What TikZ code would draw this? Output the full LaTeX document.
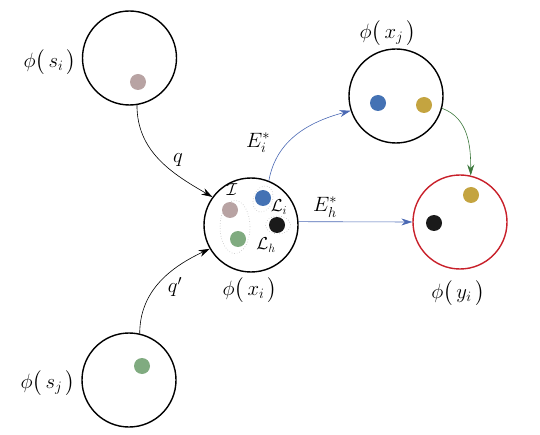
\documentclass[tikz,border=0pt]{standalone}
\usepackage{amsmath}
\usetikzlibrary{arrows.meta}
\definecolor{cgrey}{RGB}{184,163,163}
\definecolor{cblue}{RGB}{68,114,180}
\definecolor{cgold}{RGB}{196,164,64}
\definecolor{cgreen}{RGB}{128,171,128}
\definecolor{cblack}{RGB}{26,26,26}
\definecolor{cred}{RGB}{200,32,42}
\definecolor{cdkgreen}{RGB}{60,120,60}
\definecolor{cline}{RGB}{75,105,180}
\begin{document}
\begin{tikzpicture}[x=1pt,y=1pt,
  space/.style={circle,draw=black,line width=1.4pt,minimum size=94pt,inner sep=0pt},
  dot/.style={circle,fill=#1,minimum size=16pt,inner sep=0pt},
  lbl/.style={inner sep=1pt,font=\fontsize{20}{24}\selectfont},
  slbl/.style={inner sep=1pt,font=\fontsize{18}{22}\selectfont},
  conn/.style={line width=0.6pt,-{Stealth[length=11pt,width=7pt]}},
  grp/.style={draw=gray!55,dotted,line width=0.6pt}]
\useasboundingbox (0,0) rectangle (540,434);
% spaces
\node[space] (si) at (129.5,376) {};
\node[space] (xi) at (251,209) {};
\node[space] (xj) at (396,338) {};
\node[space,draw=cred] (yi) at (460,212) {};
\node[space] (sj) at (129,54) {};
% groups in x_i
\draw[grp] (235,207) ellipse [x radius=15,y radius=26.5];
\draw[grp,rotate around={-20:(263,235)}] (263,235) ellipse [x radius=9.5,y radius=13.5];
\draw[grp] (278,209) ellipse [x radius=12.5,y radius=9];
% dots
\node[dot=cgrey] (d1) at (138,352) {};
\node[dot=cgrey] (d2) at (230,224) {};
\node[dot=cblue] (d3) at (263,236) {};
\node[dot=cblack] (d4) at (277,209) {};
\node[dot=cgreen] (d5) at (238,195) {};
\node[dot=cblue] (d6) at (378,331) {};
\node[dot=cgold] (d7) at (424,329) {};
\node[dot=cgold] (d8) at (471,239) {};
\node[dot=cblack] (d9) at (434,211) {};
\node[dot=cgreen] (d10) at (142,68) {};
% labels
\node[lbl] (lsi) at (50,372) {$\phi\bigl(\,s_{i}\,\bigr)$};
\node[lbl] (lxi) at (250,144) {$\phi\bigl(\,x_{i}\,\bigr)$};
\node[lbl] (lxj) at (388,401) {$\phi\bigl(\,x_{j}\,\bigr)$};
\node[lbl] (lyi) at (458,141) {$\phi\bigl(\,y_{i}\,\bigr)$};
\node[lbl] (lsj) at (48,51) {$\phi\bigl(\,s_{j}\,\bigr)$};
\node[slbl] (lI) at (232,244) {$\mathcal{I}$};
\node[slbl] (lLi) at (279,227) {$\mathcal{L}_{i}$};
\node[slbl] (lLh) at (266,189) {$\mathcal{L}_{h}$};
\node[lbl] (lq) at (178,274) {$q$};
\node[lbl] (lqp) at (175,147) {$q'$};
\node[lbl] (lEi) at (258,291) {$E_{i}^{*}$};
\node[lbl] (lEh) at (325,227) {$E_{h}^{*}$};
% connectors
\draw[conn] (si.-81) to[out=-90,in=150] (xi.144);
\draw[conn] (sj.77) to[out=90,in=205] (xi.210);
\draw[conn,draw=cline] (xi.68) to[out=80,in=195] (xj.198);
\draw[conn,draw=cline] (xi.4) -- (yi.west);
\draw[conn,draw=cdkgreen] (xj.-15) to[out=-20,in=90] (yi.77);
\end{tikzpicture}
\end{document}
